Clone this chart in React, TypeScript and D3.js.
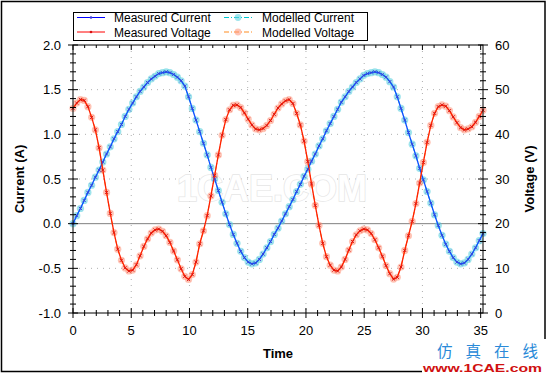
import React from "react";
import * as d3 from "d3";

// time samples (s)
const time = [
  0, 0.32, 0.64, 0.96, 1.28, 1.6, 1.92, 2.24, 2.56, 2.88,
  3.2, 3.52, 3.84, 4.16, 4.48, 4.8, 5.12, 5.44, 5.76, 6.08,
  6.4, 6.72, 7.04, 7.36, 7.68, 8, 8.32, 8.64, 8.96, 9.28,
  9.6, 9.92, 10.24, 10.56, 10.88, 11.2, 11.52, 11.84, 12.16, 12.48,
  12.8, 13.12, 13.44, 13.76, 14.08, 14.4, 14.72, 15.04, 15.36, 15.68,
  16, 16.32, 16.64, 16.96, 17.28, 17.6, 17.92, 18.24, 18.56, 18.88,
  19.2, 19.52, 19.84, 20.16, 20.48, 20.8, 21.12, 21.44, 21.76, 22.08,
  22.4, 22.72, 23.04, 23.36, 23.68, 24, 24.32, 24.64, 24.96, 25.28,
  25.6, 25.92, 26.24, 26.56, 26.88, 27.2, 27.52, 27.84, 28.16, 28.48,
  28.8, 29.12, 29.44, 29.76, 30.08, 30.4, 30.72, 31.04, 31.36, 31.68,
  32, 32.32, 32.64, 32.96, 33.28, 33.6, 33.92, 34.24, 34.56, 34.88,
  35.2,
];

// current (A)
const measuredCurrent = [
  0.0, 0.09, 0.17, 0.26, 0.35, 0.43, 0.52, 0.6, 0.69, 0.78,
  0.86, 0.95, 1.03, 1.11, 1.2, 1.28, 1.35, 1.42, 1.48, 1.53,
  1.58, 1.62, 1.65, 1.68, 1.69, 1.7, 1.69, 1.67, 1.64, 1.6,
  1.54, 1.42, 1.29, 1.16, 1.03, 0.9, 0.77, 0.63, 0.5, 0.37,
  0.24, 0.11, -0.01, -0.12, -0.22, -0.31, -0.38, -0.43, -0.45, -0.44,
  -0.4, -0.34, -0.27, -0.2, -0.12, -0.05, 0.03, 0.11, 0.19, 0.27,
  0.36, 0.44, 0.53, 0.61, 0.7, 0.78, 0.87, 0.95, 1.04, 1.12,
  1.2, 1.28, 1.36, 1.42, 1.48, 1.53, 1.58, 1.62, 1.66, 1.68,
  1.69, 1.7, 1.69, 1.67, 1.64, 1.59, 1.53, 1.42, 1.29, 1.16,
  1.02, 0.89, 0.76, 0.62, 0.49, 0.36, 0.23, 0.1, -0.02, -0.13,
  -0.23, -0.31, -0.38, -0.43, -0.45, -0.44, -0.4, -0.34, -0.27, -0.19,
  -0.11,
];

// voltage (V)
const measuredVoltage = [
  45.8, 47.0, 47.8, 47.6, 46.2, 43.8, 41.0, 37.0, 32.0, 27.0,
  22.3, 18.0, 14.3, 11.8, 10.1, 9.4, 9.6, 10.8, 12.8, 14.9,
  16.6, 17.9, 18.6, 18.8, 18.3, 17.3, 15.8, 13.9, 11.9, 9.9,
  8.2, 7.5, 8.6, 11.4, 15.5, 18.4, 21.8, 26.2, 30.8, 35.4,
  39.8, 43.3, 45.5, 46.5, 46.6, 46.0, 44.8, 43.4, 42.1, 41.2,
  41.0, 41.3, 42.0, 43.1, 44.5, 45.9, 46.8, 47.5, 47.8, 46.9,
  44.7, 42.1, 38.5, 33.9, 28.9, 24.1, 19.6, 15.6, 12.6, 10.7,
  9.6, 9.4, 10.3, 12.0, 14.1, 16.0, 17.5, 18.4, 18.8, 18.6,
  17.8, 16.4, 14.6, 12.7, 10.6, 8.8, 7.6, 8.0, 10.3, 14.0,
  17.3, 20.5, 24.5, 29.1, 33.7, 38.2, 42.0, 44.7, 46.2, 46.6,
  46.3, 45.3, 43.9, 42.6, 41.5, 41.0, 41.2, 41.7, 42.7, 44.0,
  45.4,
];

// modelled curves sit right on top of the measured ones in the picture
const modelledCurrent = measuredCurrent;
const modelledVoltage = measuredVoltage;

const timeTicks = [0, 5, 10, 15, 20, 25, 30, 35];
const currentTicks = [-1, -0.5, 0, 0.5, 1, 1.5, 2];
const voltageTicks = [0, 10, 20, 30, 40, 50, 60];

const W = 547;
const H = 374;
const L = 73, R = 483, T = 45, B = 313;
const font = "'Liberation Sans', Arial, sans-serif";

const x = d3.scaleLinear().domain([0, 35.2]).range([L, R]);
const yA = d3.scaleLinear().domain([-1, 2]).range([B, T]);
const yV = d3.scaleLinear().domain([0, 60]).range([B, T]);

const lineA = d3.line<number>().x((_, i) => x(time[i])).y((d) => yA(d));
const lineV = d3.line<number>().x((_, i) => x(time[i])).y((d) => yV(d));

const xMinor = d3.range(0, 36, 1);
const aMinor = d3.range(-1, 2.001, 0.1);
const vMinor = d3.range(0, 61, 2);

const cross = "M-1.6,-1.6L1.6,1.6M-1.6,1.6L1.6,-1.6";

export default function App() {
  return (
    <svg
      width={W}
      height={H}
      style={{ position: "absolute", left: 0, top: 0, background: "#fff" }}
      fontFamily={font}
    >
      <rect x={0} y={0} width={W} height={H} fill="#fff" />
      <rect x={1.5} y={1.5} width={543.5} height={370} fill="none" stroke="#000" strokeWidth={1.5} />

      {/* grid */}
      {timeTicks.slice(1).map((t) => (
        <line key={"gx" + t} x1={x(t)} x2={x(t)} y1={T} y2={B} stroke="#b0b0b0" strokeDasharray="1,5" />
      ))}
      {currentTicks.filter((v) => v !== 0 && v !== -1 && v !== 2).map((v) => (
        <line key={"gy" + v} x1={L} x2={R} y1={yA(v)} y2={yA(v)} stroke="#b0b0b0" strokeDasharray="1,5" />
      ))}
      <line x1={L} x2={R} y1={yA(0)} y2={yA(0)} stroke="#808080" />

      {/* faint watermark */}
      <text
        x={272}
        y={201}
        textAnchor="middle"
        fontSize={36}
        fontWeight="bold"
        fill="#fff"
        stroke="#e6e6e6"
        strokeWidth={1.5}
        style={{ paintOrder: "stroke" }}
      >
        1CAE.COM
      </text>

      {/* modelled series */}
      <g fill="#5ed2e0" fillOpacity={0.6}>
        {modelledCurrent.map((d, i) => (
          <circle key={"mc" + i} cx={x(time[i])} cy={yA(d)} r={3.6} />
        ))}
      </g>
      <g fill="#ff9478" fillOpacity={0.55}>
        {modelledVoltage.map((d, i) => (
          <circle key={"mv" + i} cx={x(time[i])} cy={yV(d)} r={3.6} />
        ))}
      </g>
      <path d={lineA(modelledCurrent) ?? ""} fill="none" stroke="#00c8d0" strokeDasharray="5,2,1,2" />
      <path d={lineV(modelledVoltage) ?? ""} fill="none" stroke="#ff8c20" strokeDasharray="5,2,1,2" />

      {/* measured series */}
      <path d={lineA(measuredCurrent) ?? ""} fill="none" stroke="#1050ff" strokeWidth={1.3} />
      <path d={lineV(measuredVoltage) ?? ""} fill="none" stroke="#ff2000" strokeWidth={1.3} />
      <g stroke="#3a3ad8" strokeWidth={0.9}>
        {measuredCurrent.map((d, i) => (
          <path key={"pc" + i} d={cross} transform={`translate(${x(time[i])},${yA(d)})`} />
        ))}
      </g>
      <g stroke="#d81010" strokeWidth={0.9}>
        {measuredVoltage.map((d, i) => (
          <path key={"pv" + i} d={cross} transform={`translate(${x(time[i])},${yV(d)})`} />
        ))}
      </g>

      {/* frame */}
      <rect x={L} y={T} width={R - L} height={B - T} fill="none" stroke="#000" />

      {/* ticks on all four sides */}
      <g stroke="#000">
        {xMinor.map((t) => {
          const major = t % 5 === 0;
          return (
            <g key={"xt" + t}>
              <line x1={x(t)} x2={x(t)} y1={B - (major ? 5 : 3)} y2={B + (major ? 5 : 3)} />
              <line x1={x(t)} x2={x(t)} y1={T} y2={T + (major ? 5 : 3)} />
            </g>
          );
        })}
        {aMinor.map((v, i) => {
          const major = i % 5 === 0;
          return <line key={"at" + i} x1={L - (major ? 5 : 3)} x2={L + (major ? 5 : 3)} y1={yA(v)} y2={yA(v)} />;
        })}
        {vMinor.map((v) => {
          const major = v % 10 === 0;
          return <line key={"vt" + v} x1={R - (major ? 5 : 3)} x2={R + (major ? 5 : 3)} y1={yV(v)} y2={yV(v)} />;
        })}
      </g>

      <g fontSize={13} fill="#000">
        {timeTicks.map((t) => (
          <text key={"xl" + t} x={x(t)} y={335} textAnchor="middle">
            {t}
          </text>
        ))}
        {currentTicks.map((v) => (
          <text key={"al" + v} x={61} y={yA(v) + 4.5} textAnchor="end">
            {v.toFixed(1)}
          </text>
        ))}
        {voltageTicks.map((v) => (
          <text key={"vl" + v} x={495} y={yV(v) + 4.5}>
            {v}
          </text>
        ))}
      </g>

      <g fontSize={13} fontWeight="bold" fill="#000" textAnchor="middle">
        <text x={(L + R) / 2} y={358}>Time</text>
        <text transform={`translate(24,${(T + B) / 2}) rotate(-90)`}>Current (A)</text>
        <text transform={`translate(534,${(T + B) / 2}) rotate(-90)`}>Voltage (V)</text>
      </g>

      {/* legend */}
      <g fontSize={12}>
        <rect x={73.5} y={12.5} width={294} height={28} fill="#fff" stroke="#000" />
        <line x1={77} x2={105} y1={17.5} y2={17.5} stroke="#0000ff" />
        <circle cx={91} cy={17.5} r={1.3} fill="#3a3ad8" />
        <text x={114} y={22}>Measured Current</text>
        <line x1={77} x2={105} y1={32} y2={32} stroke="#ff0000" />
        <circle cx={91} cy={32} r={1.3} fill="#d81010" />
        <text x={114} y={36.5}>Measured Voltage</text>

        <line x1={224} x2={252} y1={17.5} y2={17.5} stroke="#00c8d0" strokeDasharray="5,2,1,2" />
        <circle cx={238} cy={17.5} r={3.4} fill="#5ed2e0" fillOpacity={0.6} />
        <text x={262} y={22}>Modelled Current</text>
        <line x1={224} x2={252} y1={32} y2={32} stroke="#ff8c20" strokeDasharray="5,2,1,2" />
        <circle cx={238} cy={32} r={3.4} fill="#ff9478" fillOpacity={0.55} />
        <text x={262} y={36.5}>Modelled Voltage</text>
      </g>

      {/* corner watermark */}
      <rect x={422} y={339} width={125} height={35} fill="#fff" />
      <text
        x={437}
        y={356.5}
        fontSize={15.5}
        fill="#2a8ad8"
        fontFamily="'Noto Sans CJK SC', sans-serif"
        textLength={101}
        lengthAdjust="spacing"
      >
        仿真在线
      </text>
      <text x={423} y={371.5} fontSize={11.5} fontWeight="bold" fill="#d01010" textLength={119} lengthAdjust="spacingAndGlyphs">
        www.1CAE.com
      </text>
    </svg>
  );
}
